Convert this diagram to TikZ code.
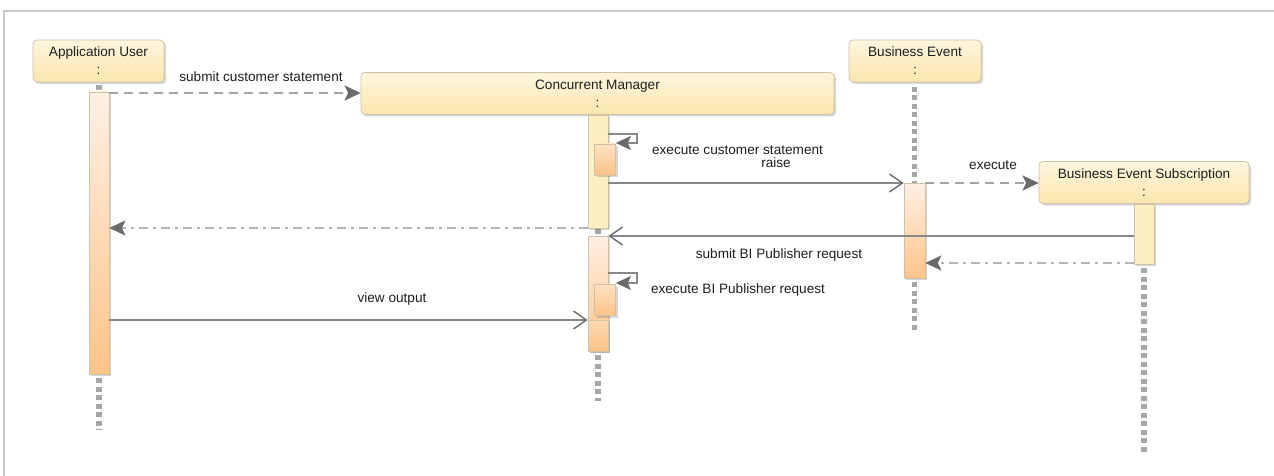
\documentclass[tikz,border=0pt]{standalone}
\usepackage{fontspec}
\setmainfont{Liberation Sans}
\usetikzlibrary{arrows.meta,shadows}

\definecolor{hdrtop}{HTML}{FDF6DF}
\definecolor{hdrbot}{HTML}{FBE6AC}
\definecolor{hdrline}{HTML}{CCC3A8}
\definecolor{yelbar}{HTML}{FDEFBF}
\definecolor{barline}{HTML}{D0C2A6}
\definecolor{ortop}{HTML}{FEF0E4}
\definecolor{orbot}{HTML}{FDC488}
\definecolor{selftop}{HTML}{FEE2C4}
\definecolor{selfbot}{HTML}{FDC286}
\definecolor{lifegray}{HTML}{A6A6A6}
\definecolor{msggray}{HTML}{888888}
\definecolor{dashgray}{HTML}{A4A4A4}
\definecolor{retgray}{HTML}{B4B4B4}
\definecolor{tipgray}{HTML}{6A6A6A}
\definecolor{ink}{HTML}{1E1E1E}
\definecolor{framegray}{HTML}{C8C8C8}

\newcommand\lblfont{\fontsize{13.6}{18}\selectfont}

\tikzset{
  softshadow/.style={drop shadow={shadow xshift=2pt,shadow yshift=-2pt,opacity=0.16,fill=black}},
  header/.style={draw=hdrline, line width=0.8pt, rounded corners=4pt,
    top color=hdrtop, bottom color=hdrbot, softshadow,
    align=center, inner sep=0pt, font=\lblfont, text=ink, minimum height=42pt},
  ybar/.style={draw=barline, line width=0.7pt, fill=yelbar, softshadow,
    inner sep=0pt, minimum width=20pt},
  obar/.style={draw=barline, line width=0.7pt, top color=ortop, bottom color=orbot,
    softshadow, inner sep=0pt, minimum width=20pt},
  sbar/.style={draw=barline, line width=0.7pt, top color=selftop, bottom color=selfbot,
    softshadow, inner sep=0pt, minimum width=20pt},
  lifeline/.style={draw=lifegray, line width=5.5pt, dash pattern=on 5pt off 3.5pt},
  filledtip/.tip={Stealth[length=16pt,width=15pt,inset=3.5pt,color=tipgray]},
  smalltip/.tip={Stealth[length=15pt,width=14pt,inset=3pt,color=tipgray]},
  opentip/.tip={Straight Barb[length=13pt,width=18pt,line width=1.4pt,color=tipgray]},
  callmsg/.style={draw=msggray, line width=1.2pt, -opentip},
  asyncmsg/.style={draw=dashgray, line width=2.2pt, dash pattern=on 9pt off 6pt, -filledtip},
  retmsg/.style={draw=retgray, line width=2pt, dash pattern=on 9pt off 5pt on 3pt off 5pt, -filledtip},
  selfmsg/.style={draw=msggray, line width=1.2pt, -smalltip},
  msglabel/.style={font=\lblfont, text=ink, inner sep=0pt, align=center},
}

\begin{document}
\begin{tikzpicture}[x=1pt,y=-1pt]
\useasboundingbox (0,0) rectangle (1274,476);

% outer frame edges
\draw[framegray, line width=1.4pt] (4,476) -- (4,11) -- (1274,11);

% message rows
\coordinate (r1) at (0,93);
\coordinate (s1a) at (0,134);
\coordinate (s1b) at (0,143);
\coordinate (r3) at (0,183);
\coordinate (r5) at (0,228);
\coordinate (r6) at (0,236);
\coordinate (r7) at (0,263);
\coordinate (s2a) at (0,273);
\coordinate (s2b) at (0,283);
\coordinate (r9) at (0,320);

% lifeline ends
\coordinate (auend) at (99,430);
\coordinate (cmend) at (598,401);
\coordinate (beend) at (914.5,332);
\coordinate (besend) at (1144,454);

% lifeline segments between boxes and bars
\coordinate (autop) at (99,85);
\coordinate (au1top) at (99,92);
\coordinate (cmgap1) at (598,229);
\coordinate (cmgap2) at (598,236);
\coordinate (betop) at (914.5,87);
\coordinate (be1top) at (914.5,183);

% participants
\node[header, minimum width=131pt] (au) at (98.5,61) {Application User\\:};
\node[header, minimum width=473pt] (cm) at (597.5,93.5) {Concurrent Manager\\:};
\node[header, minimum width=132pt] (be) at (915,61) {Business Event\\:};
\node[header, minimum width=210pt] (bes) at (1144,182.5) {Business Event Subscription\\:};

% lifelines
\draw[lifeline] (autop) -- (au1top);
\draw[lifeline] (betop) -- (be1top);
\draw[lifeline] (cmgap1) -- (cmgap2);

% activation bars
\node[obar, minimum height=282pt] (au1) at (99,233) {};
\node[ybar, minimum height=113pt] (cm1) at (598,171.5) {};
\node[sbar, minimum height=31pt, minimum width=21pt] (cm1s) at (605,159.5) {};
\node[obar, minimum height=115pt] (cm2) at (598,293.5) {};
\node[sbar, minimum height=31pt, minimum width=21pt] (cm2s) at (605,300) {};
\node[sbar, minimum height=31pt, top color=selftop!70!orbot] (cm3) at (598,335.5) {};
\node[obar, minimum height=95pt, minimum width=21pt] (be1) at (914.5,230.5) {};
\node[ybar, minimum height=60pt] (bes1) at (1144,234) {};

\draw[lifeline] ([yshift=-4pt]au1.south) -- (auend);
\draw[lifeline] ([yshift=-4pt]cm2.south) -- (cmend);
\draw[lifeline] ([yshift=-4pt]be1.south) -- (beend);
\draw[lifeline] ([yshift=-4pt]bes1.south) -- (besend);

% messages
\draw[asyncmsg] (au1.east |- r1) -- (cm.west |- r1);
\node[msglabel] (l1) at (261,77) {submit customer statement};

\draw[selfmsg] (cm1.east |- s1a) -- (637,134) -- (637,143) -- (cm1s.east |- s1b);
\node[msglabel] (l2) at (737.5,150) {execute customer statement};

\draw[callmsg] (cm1.east |- r3) -- (be1.west |- r3);
\node[msglabel] (l3) at (776,163) {raise};

\draw[asyncmsg] (be1.east |- r3) -- (bes.west |- r3);
\node[msglabel] (l4) at (993,165) {execute};

\draw[retmsg] (cm1.west |- r5) -- (au1.east |- r5);

\draw[callmsg] (bes1.west |- r6) -- (cm2.east |- r6);
\node[msglabel] (l6) at (779,255) {submit BI Publisher request};

\draw[retmsg] (bes1.west |- r7) -- (be1.east |- r7);

\draw[selfmsg] (cm2.east |- s2a) -- (637,273) -- (637,283) -- (cm2s.east |- s2b);
\node[msglabel] (l8) at (738,290) {execute BI Publisher request};

\draw[callmsg] (au1.east |- r9) -- (cm2.west |- r9);
\node[msglabel] (l9) at (392,299) {view output};
\end{tikzpicture}
\end{document}
